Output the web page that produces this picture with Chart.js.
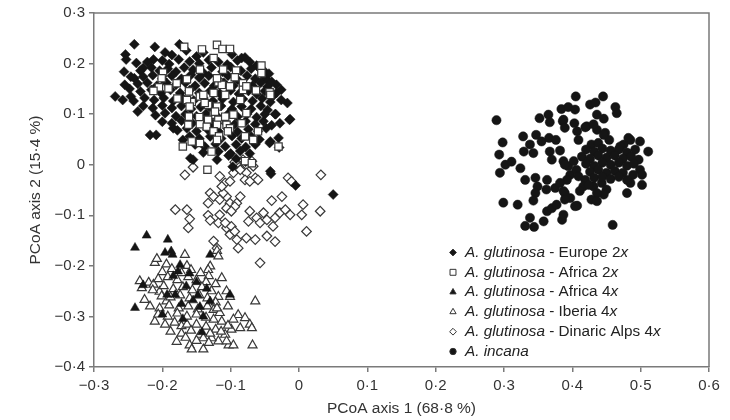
<!DOCTYPE html>
<html>
<head>
<meta charset="utf-8">
<script src="https://cdn.jsdelivr.net/npm/chart.js@4.4.1/dist/chart.umd.min.js"></script>
<style>
  html, body { margin: 0; padding: 0; background: #fff; }
  #wrap { width: 730px; height: 420px; }
</style>
</head>
<body>
<div id="wrap"><canvas id="pcoa" width="730" height="420"></canvas></div>
<script>
// PCoA scores (axis 1, axis 2) per group
const europe2x = [
  [-0.241,0.238],[-0.211,0.233],[-0.175,0.238],[-0.165,0.226],[-0.254,0.218],[-0.253,0.208],[-0.238,0.201],
  [-0.228,0.191],[-0.213,0.208],[-0.256,0.184],[-0.246,0.174],[-0.241,0.171],[-0.255,0.158],[-0.269,0.135],
  [-0.246,0.135],[-0.236,0.105],[-0.218,0.059],[-0.209,0.059],[-0.184,0.072],[-0.170,0.049],[-0.159,0.013],
  [-0.155,0.010],[-0.103,0.018],[-0.097,-0.004],
  [-0.084,0.211],[-0.079,0.212],[-0.062,0.196],[-0.050,0.184],[-0.047,0.168],[-0.033,0.158],[-0.033,0.142],
  [-0.017,0.122],[-0.034,0.100],[-0.028,0.082],[-0.014,0.089],[-0.042,0.046],[-0.030,0.053],[-0.029,0.034],
  [-0.043,0.043],[-0.042,-0.013],[-0.041,-0.018],[-0.005,-0.041],[0.050,-0.059],[-0.013,0.090],[-0.035,0.100],
  [-0.196,0.222],[-0.186,0.217],[-0.150,0.214],[-0.140,0.222],[-0.098,0.218],[-0.090,0.206],
  [-0.222,0.203],[-0.200,0.206],[-0.190,0.199],[-0.176,0.208],[-0.160,0.204],[-0.146,0.200],[-0.132,0.207],
  [-0.118,0.203],[-0.105,0.198],[-0.072,0.203],[-0.058,0.191],
  [-0.232,0.186],[-0.216,0.192],[-0.204,0.186],[-0.192,0.190],[-0.180,0.184],[-0.168,0.192],[-0.155,0.188],
  [-0.140,0.182],[-0.128,0.192],[-0.112,0.184],[-0.100,0.193],[-0.085,0.186],[-0.070,0.190],[-0.044,0.180],
  [-0.228,0.174],[-0.214,0.177],[-0.200,0.170],[-0.186,0.176],[-0.172,0.170],[-0.158,0.178],[-0.146,0.172],
  [-0.132,0.176],[-0.118,0.168],[-0.104,0.176],[-0.090,0.168],[-0.076,0.176],[-0.064,0.170],[-0.052,0.176],
  [-0.040,0.164],
  [-0.236,0.160],[-0.222,0.162],[-0.208,0.156],[-0.194,0.162],[-0.180,0.158],[-0.166,0.162],[-0.152,0.156],
  [-0.138,0.161],[-0.124,0.156],[-0.110,0.162],[-0.096,0.156],[-0.082,0.160],[-0.068,0.156],[-0.056,0.162],
  [-0.046,0.154],[-0.026,0.148],
  [-0.248,0.150],[-0.232,0.145],[-0.216,0.148],[-0.202,0.142],[-0.188,0.148],[-0.174,0.142],[-0.160,0.147],
  [-0.146,0.142],[-0.130,0.146],[-0.116,0.141],[-0.100,0.147],[-0.088,0.140],[-0.074,0.146],[-0.062,0.140],
  [-0.050,0.146],[-0.038,0.136],
  [-0.258,0.128],[-0.242,0.126],[-0.226,0.132],[-0.212,0.128],[-0.198,0.132],[-0.184,0.126],[-0.170,0.131],
  [-0.154,0.127],[-0.140,0.132],[-0.126,0.126],[-0.112,0.130],[-0.096,0.124],[-0.082,0.130],[-0.068,0.126],
  [-0.054,0.131],[-0.042,0.124],[-0.026,0.128],
  [-0.228,0.116],[-0.214,0.112],[-0.200,0.117],[-0.186,0.112],[-0.172,0.116],[-0.158,0.110],[-0.144,0.114],
  [-0.128,0.110],[-0.114,0.116],[-0.098,0.110],[-0.084,0.115],[-0.070,0.110],[-0.056,0.116],[-0.046,0.108],
  [-0.210,0.098],[-0.196,0.102],[-0.180,0.096],[-0.166,0.100],[-0.150,0.096],[-0.136,0.101],[-0.120,0.096],
  [-0.104,0.100],[-0.090,0.095],[-0.076,0.100],[-0.062,0.094],[-0.050,0.100],
  [-0.200,0.085],[-0.186,0.082],[-0.172,0.087],[-0.156,0.082],[-0.140,0.086],[-0.126,0.081],[-0.110,0.086],
  [-0.094,0.080],[-0.078,0.086],[-0.064,0.080],[-0.052,0.086],[-0.040,0.078],
  [-0.178,0.068],[-0.164,0.072],[-0.150,0.066],[-0.134,0.070],[-0.118,0.066],[-0.104,0.071],[-0.090,0.065],
  [-0.074,0.070],[-0.060,0.066],[-0.048,0.072],
  [-0.160,0.056],[-0.146,0.052],[-0.130,0.056],[-0.114,0.052],[-0.098,0.057],[-0.084,0.052],[-0.070,0.056],
  [-0.058,0.050],
  [-0.152,0.040],[-0.138,0.036],[-0.122,0.041],[-0.108,0.036],[-0.092,0.040],[-0.078,0.035],[-0.064,0.040],
  [-0.140,0.024],[-0.118,0.026],[-0.100,0.022],[-0.086,0.027],[-0.072,0.022],
  [-0.120,0.010],[-0.092,0.012],[-0.078,0.006]
];

const africa2x = [
  [-0.168,0.233],[-0.142,0.228],[-0.120,0.237],[-0.112,0.229],[-0.101,0.229],[-0.145,0.188],[-0.125,0.211],
  [-0.111,0.188],[-0.092,0.186],[-0.055,0.196],[-0.055,0.181],[-0.199,0.182],[-0.205,0.153],[-0.201,0.171],
  [-0.213,0.146],[-0.179,0.161],[-0.164,0.169],[-0.191,0.151],[-0.161,0.145],[-0.145,0.135],[-0.125,0.142],
  [-0.118,0.163],[-0.113,0.158],[-0.120,0.171],[-0.094,0.173],[-0.101,0.155],[-0.082,0.161],[-0.082,0.148],
  [-0.077,0.155],[-0.063,0.147],[-0.043,0.143],[-0.178,0.131],[-0.157,0.124],[-0.140,0.138],[-0.133,0.118],
  [-0.164,0.128],[-0.160,0.115],[-0.138,0.122],[-0.120,0.115],[-0.108,0.138],[-0.086,0.128],[-0.077,0.102],
  [-0.096,0.099],[-0.125,0.099],[-0.146,0.094],[-0.161,0.095],[-0.133,0.089],[-0.118,0.089],[-0.106,0.079],
  [-0.084,0.082],[-0.162,0.079],[-0.145,0.080],[-0.135,0.075],[-0.123,0.105],[-0.108,0.095],[-0.120,0.079],
  [-0.101,0.072],[-0.060,0.066],[-0.067,0.049],[-0.079,0.056],[-0.104,0.066],[-0.125,0.066],[-0.117,0.056],
  [-0.120,0.049],[-0.145,0.043],[-0.157,0.046],[-0.170,0.036],[-0.128,0.026],[-0.134,-0.010],[-0.030,0.036],
  [-0.079,0.007],[-0.069,0.003],[-0.042,0.138]
];

const africa4x = [
  [-0.223,-0.140],[-0.240,-0.164],[-0.192,-0.148],[-0.196,-0.174],[-0.187,-0.171],[-0.185,-0.178],
  [-0.130,-0.178],[-0.228,-0.238],[-0.240,-0.283],[-0.200,-0.296],[-0.174,-0.198],[-0.177,-0.211],
  [-0.184,-0.220],[-0.193,-0.257],[-0.181,-0.257],[-0.170,-0.305],[-0.142,-0.331],[-0.101,-0.257],
  [-0.145,-0.281],[-0.160,-0.215],[-0.150,-0.232],[-0.135,-0.245],[-0.155,-0.268],[-0.165,-0.240],
  [-0.140,-0.300],[-0.130,-0.270],[-0.172,-0.275],[-0.148,-0.258]
];

const iberia4x = [
  [-0.167,-0.178],[-0.211,-0.194],[-0.194,-0.197],[-0.164,-0.200],[-0.233,-0.230],[-0.220,-0.233],
  [-0.213,-0.237],[-0.130,-0.201],[-0.113,-0.224],[-0.118,-0.261],[-0.106,-0.250],[-0.101,-0.261],
  [-0.064,-0.270],[-0.226,-0.267],[-0.211,-0.310],[-0.179,-0.350],[-0.160,-0.357],[-0.157,-0.365],
  [-0.140,-0.365],[-0.103,-0.357],[-0.096,-0.357],[-0.068,-0.357],[-0.089,-0.297],[-0.079,-0.303],
  [-0.072,-0.316],[-0.069,-0.323],[-0.086,-0.323],[-0.099,-0.326],[-0.108,-0.336],[-0.106,-0.349],
  [-0.118,-0.349],[-0.128,-0.343],[-0.208,-0.186],[-0.120,-0.170],[-0.118,-0.181],[-0.133,-0.208],
  [-0.204,-0.251],[-0.194,-0.270],[-0.201,-0.260],[-0.172,-0.319],[-0.164,-0.316],[-0.145,-0.336],
  [-0.140,-0.343],[-0.125,-0.287],[-0.116,-0.293],[-0.125,-0.306],[-0.113,-0.310],[-0.096,-0.306],
  [-0.200,-0.212],[-0.186,-0.206],[-0.172,-0.214],[-0.158,-0.208],[-0.144,-0.214],[-0.132,-0.220],
  [-0.206,-0.226],[-0.192,-0.222],[-0.178,-0.228],[-0.162,-0.222],[-0.150,-0.228],[-0.136,-0.232],
  [-0.122,-0.236],[-0.230,-0.244],[-0.214,-0.248],[-0.198,-0.240],[-0.184,-0.246],[-0.170,-0.242],
  [-0.156,-0.248],[-0.142,-0.242],[-0.128,-0.250],[-0.188,-0.262],[-0.174,-0.258],[-0.160,-0.264],
  [-0.146,-0.258],[-0.134,-0.264],[-0.122,-0.272],[-0.218,-0.280],[-0.204,-0.284],[-0.190,-0.278],
  [-0.176,-0.284],[-0.162,-0.280],[-0.148,-0.286],[-0.134,-0.280],[-0.120,-0.284],[-0.104,-0.280],
  [-0.206,-0.296],[-0.192,-0.300],[-0.178,-0.294],[-0.164,-0.300],[-0.150,-0.296],[-0.136,-0.302],
  [-0.196,-0.316],[-0.182,-0.312],[-0.150,-0.316],[-0.136,-0.320],[-0.122,-0.326],[-0.104,-0.318],
  [-0.188,-0.330],[-0.172,-0.334],[-0.158,-0.328],[-0.130,-0.334],[-0.114,-0.330],
  [-0.166,-0.342],[-0.150,-0.348],[-0.132,-0.352]
];

const dinaric4x = [
  [-0.167,-0.020],[-0.155,-0.005],[-0.116,-0.023],[-0.108,-0.036],[-0.101,-0.033],[-0.091,0.000],
  [-0.082,0.010],[-0.077,0.000],[-0.069,0.007],[-0.067,-0.003],[-0.077,-0.016],[-0.064,-0.026],
  [-0.079,-0.030],[-0.096,-0.016],[-0.086,-0.010],[-0.094,0.005],[-0.060,-0.030],[-0.072,-0.033],
  [-0.016,-0.026],[0.032,-0.020],[-0.130,-0.056],[-0.125,-0.063],[-0.133,-0.076],[-0.116,-0.069],
  [-0.106,-0.063],[-0.101,-0.076],[-0.091,-0.076],[-0.086,-0.063],[-0.111,-0.056],[-0.113,-0.043],
  [-0.181,-0.089],[-0.164,-0.089],[-0.160,-0.107],[-0.162,-0.125],[-0.133,-0.100],[-0.130,-0.110],
  [-0.116,-0.099],[-0.118,-0.115],[-0.106,-0.125],[-0.099,-0.122],[-0.101,-0.138],[-0.094,-0.132],
  [-0.091,-0.148],[-0.089,-0.165],[-0.108,-0.115],[-0.094,-0.083],[-0.106,-0.086],[-0.099,-0.092],
  [-0.072,-0.092],[-0.074,-0.112],[-0.062,-0.105],[-0.057,-0.115],[-0.052,-0.095],[-0.047,-0.109],
  [-0.035,-0.105],[-0.038,-0.122],[-0.047,-0.141],[-0.035,-0.152],[-0.077,-0.145],[-0.064,-0.148],
  [-0.040,-0.071],[-0.025,-0.063],[-0.028,-0.095],[-0.020,-0.089],[-0.013,-0.099],[-0.011,-0.033],
  [0.006,-0.079],[0.004,-0.099],[0.031,-0.092],[0.011,-0.132],[-0.125,-0.151],[-0.120,-0.165],
  [-0.057,-0.194]
];

const incana = [
  [0.289,0.088],[0.405,0.135],[0.426,0.119],[0.434,0.123],[0.445,0.135],[0.463,0.114],[0.465,0.102],
  [0.352,0.092],[0.365,0.099],[0.367,0.084],[0.384,0.110],[0.394,0.114],[0.404,0.109],[0.386,0.086],
  [0.403,0.082],[0.421,0.076],[0.436,0.099],[0.446,0.091],[0.436,0.069],[0.448,0.063],[0.328,0.056],
  [0.347,0.059],[0.355,0.046],[0.366,0.053],[0.338,0.040],[0.298,0.044],[0.293,0.020],[0.294,-0.016],
  [0.302,0.000],[0.311,0.006],[0.324,-0.007],[0.376,0.049],[0.407,0.066],[0.409,0.049],[0.329,0.026],
  [0.343,0.023],[0.367,0.026],[0.370,0.010],[0.382,0.028],[0.387,0.007],[0.394,-0.003],[0.397,-0.020],
  [0.392,-0.030],[0.406,-0.010],[0.454,0.049],[0.475,0.040],[0.485,0.049],[0.499,0.046],[0.511,0.026],
  [0.497,0.010],[0.499,-0.010],[0.489,-0.020],[0.502,-0.020],[0.485,-0.036],[0.480,-0.030],[0.502,-0.040],
  [0.480,-0.056],[0.331,-0.030],[0.346,-0.026],[0.349,-0.043],[0.346,-0.056],[0.363,-0.030],[0.362,-0.049],
  [0.375,-0.046],[0.382,-0.036],[0.389,-0.056],[0.397,-0.066],[0.409,-0.023],[0.419,-0.030],[0.416,-0.043],
  [0.431,-0.043],[0.443,-0.036],[0.450,-0.049],[0.446,-0.059],[0.436,-0.056],[0.424,-0.040],[0.428,-0.069],
  [0.436,-0.072],[0.411,-0.052],[0.299,-0.075],[0.320,-0.079],[0.343,-0.071],[0.363,-0.092],[0.370,-0.086],
  [0.377,-0.079],[0.385,-0.109],[0.407,-0.081],[0.338,-0.105],[0.331,-0.121],[0.344,-0.123],[0.358,-0.112],
  [0.459,-0.119],[0.387,0.089],[0.389,0.073],[0.419,0.074],[0.431,0.080],[0.446,0.059],[0.428,0.040],
  [0.438,0.043],[0.470,0.036],[0.482,0.053],[0.389,0.000],[0.402,0.007],[0.387,-0.052],[0.389,-0.069],
  [0.404,-0.082],[0.387,-0.099],
  [0.420,0.030],[0.432,0.026],[0.444,0.032],[0.456,0.028],[0.468,0.030],[0.480,0.024],[0.492,0.030],
  [0.414,0.016],[0.426,0.012],[0.438,0.018],[0.450,0.014],[0.462,0.018],[0.474,0.012],[0.486,0.016],
  [0.420,0.002],[0.432,-0.002],[0.444,0.004],[0.456,0.000],[0.468,0.004],[0.480,-0.002],[0.490,0.002],
  [0.426,-0.014],[0.438,-0.010],[0.450,-0.016],[0.462,-0.012],[0.474,-0.016],
  [0.432,-0.026],[0.444,-0.024],[0.456,-0.028],[0.468,-0.024]
];

const xRange = [-0.3, 0.6];
const yRange = [-0.4, 0.3];
const xTitle = 'PCoA axis 1 (68·8 %)';
const yTitle = 'PCoA axis 2 (15·4 %)';

// legend text: [text, italic] runs
const legendRows = [
  { style: 'rectRot', filled: true,  runs: [['A. glutinosa', true], [' - Europe 2', false], ['x', true]] },
  { style: 'rect',    filled: false, runs: [['A. glutinosa', true], [' - Africa 2', false], ['x', true]] },
  { style: 'triangle',filled: true,  runs: [['A. glutinosa', true], [' - Africa 4', false], ['x', true]] },
  { style: 'triangle',filled: false, runs: [['A. glutinosa', true], [' - Iberia 4', false], ['x', true]] },
  { style: 'rectRot', filled: false, runs: [['A. glutinosa', true], [' - Dinaric Alps 4', false], ['x', true]] },
  { style: 'circle',  filled: true,  runs: [['A. incana', true]] }
];

const FONT = "'Liberation Sans', Arial, Helvetica, sans-serif";
const INK = '#151515';
const AXIS_GREY = '#7a7a7a';

const toXY = arr => arr.map(p => ({ x: p[0], y: p[1] }));

function fmtTick(v) {
  if (Math.abs(v) < 1e-9) return '0';
  return (v < 0 ? '\u2212' : '') + Math.abs(v).toFixed(1).replace('.', '\u00b7');
}

// top and right border of the plot box
const boxFrame = {
  id: 'boxFrame',
  beforeDatasetsDraw(chart) {
    const { ctx, chartArea: a } = chart;
    ctx.save();
    ctx.strokeStyle = AXIS_GREY;
    ctx.lineWidth = 1.5;
    ctx.beginPath();
    ctx.moveTo(a.left, a.top);
    ctx.lineTo(a.right, a.top);
    ctx.lineTo(a.right, a.bottom);
    ctx.stroke();
    ctx.restore();
  }
};

const legendRadius = { rectRot: 3.4, rect: 4.2, triangle: 3.6, circle: 3.2 };

// legend with italic species names
const speciesLegend = {
  id: 'speciesLegend',
  afterDraw(chart) {
    const { ctx, chartArea: a } = chart;
    const x0 = a.right - 256;
    const y0 = a.bottom - 114.5;
    ctx.save();
    ctx.textBaseline = 'middle';
    legendRows.forEach((row, i) => {
      const y = y0 + i * 19.8;
      ctx.fillStyle = row.filled ? INK : '#fff';
      ctx.strokeStyle = '#333';
      Chart.helpers.drawPoint(ctx, {
        pointStyle: row.style, radius: legendRadius[row.style], rotation: 0, borderWidth: 1
      }, x0, y);
      let x = x0 + 12;
      ctx.fillStyle = '#222';
      row.runs.forEach(([text, italic]) => {
        ctx.font = (italic ? 'italic ' : '') + '15.3px ' + FONT;
        ctx.fillText(text, x, y);
        x += ctx.measureText(text).width;
      });
    });
    ctx.restore();
  }
};

const openStyle = {
  backgroundColor: '#fff',
  borderColor: '#383838',
  borderWidth: 1.2
};
const filledStyle = {
  backgroundColor: INK,
  borderColor: INK,
  borderWidth: 0.5
};

new Chart(document.getElementById('pcoa'), {
  type: 'scatter',
  data: {
    datasets: [
      { label: 'A. glutinosa - Europe 2x', data: toXY(europe2x), pointStyle: 'rectRot', pointRadius: 5, order: 3, ...filledStyle },
      { label: 'A. glutinosa - Africa 2x', data: toXY(africa2x), pointStyle: 'rect', pointRadius: 5.2, order: 2, ...openStyle },
      { label: 'A. glutinosa - Africa 4x', data: toXY(africa4x), pointStyle: 'triangle', pointRadius: 5.2, order: 1, ...filledStyle },
      { label: 'A. glutinosa - Iberia 4x', data: toXY(iberia4x), pointStyle: 'triangle', pointRadius: 5.2, order: 2, ...openStyle },
      { label: 'A. glutinosa - Dinaric Alps 4x', data: toXY(dinaric4x), pointStyle: 'rectRot', pointRadius: 4.8, order: 4, ...openStyle },
      { label: 'A. incana', data: toXY(incana), pointStyle: 'circle', pointRadius: 4.6, order: 1, ...filledStyle }
    ]
  },
  options: {
    responsive: false,
    animation: false,
    devicePixelRatio: 1,
    layout: { padding: { left: 24, right: 21, top: 13, bottom: 0 } },
    plugins: {
      legend: { display: false },
      tooltip: { enabled: false }
    },
    scales: {
      x: {
        type: 'linear',
        min: xRange[0],
        max: xRange[1],
        afterFit: s => { s.height = 53; },
        border: { color: AXIS_GREY, width: 1.5 },
        grid: { drawOnChartArea: false, drawTicks: true, tickLength: 5, color: AXIS_GREY, lineWidth: 1.5 },
        ticks: { stepSize: 0.1, callback: fmtTick, color: '#333', padding: 5, maxRotation: 0,
                 font: { family: FONT, size: 15 } },
        title: { display: true, text: xTitle, color: '#333', padding: { top: 0, bottom: 2 }, font: { family: FONT, size: 15.5 } }
      },
      y: {
        type: 'linear',
        min: yRange[0],
        max: yRange[1],
        afterFit: s => { s.width = 70; },
        border: { color: AXIS_GREY, width: 1.5 },
        grid: { drawOnChartArea: false, drawTicks: true, tickLength: 5, color: AXIS_GREY, lineWidth: 1.5 },
        ticks: { stepSize: 0.1, callback: fmtTick, color: '#333', padding: 4,
                 font: { family: FONT, size: 15 } },
        title: { display: true, text: yTitle, color: '#333', padding: 2, font: { family: FONT, size: 15.5 } }
      }
    }
  },
  plugins: [boxFrame, speciesLegend]
});
</script>
</body>
</html>
